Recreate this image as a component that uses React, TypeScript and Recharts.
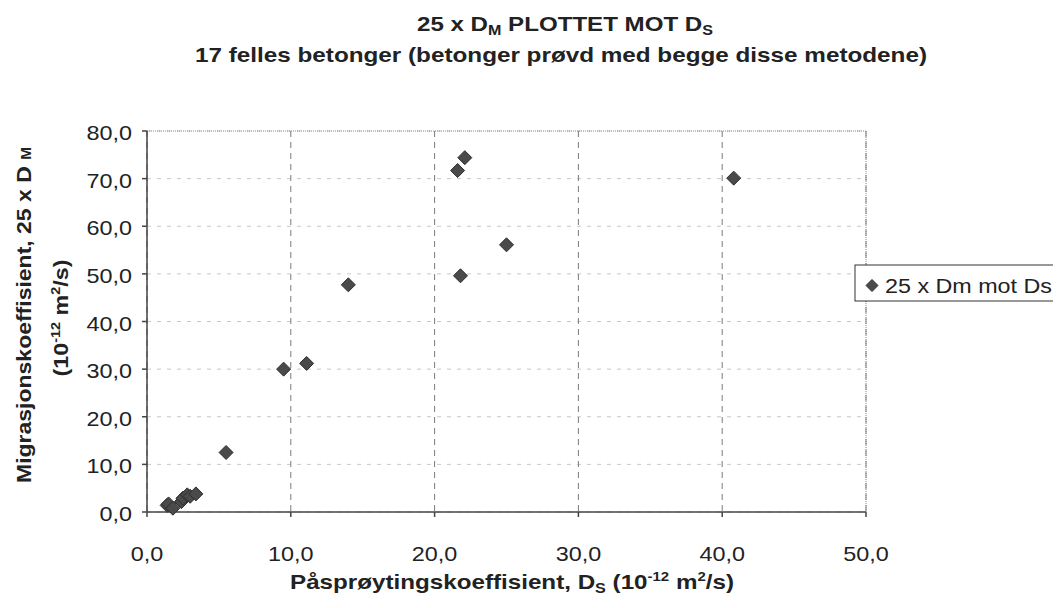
import { ScatterChart, Scatter, XAxis, YAxis, CartesianGrid, ReferenceLine } from 'recharts';

// Påsprøytingskoeffisient D_S and 25 x D_M, 17 concretes
const dsValues = [22.1, 21.6, 40.8, 25.0, 21.8, 14.0, 11.1, 9.5, 5.5, 1.4, 1.5, 1.8, 2.4, 2.5, 2.8, 3.0, 3.4];
const dmValues = [74.4, 71.7, 70.1, 56.1, 49.6, 47.7, 31.2, 30.0, 12.5, 1.4, 1.7, 0.8, 2.2, 2.9, 3.6, 3.3, 3.8];
const xTicks = [0, 10, 20, 30, 40, 50];
const yTicks = [0, 10, 20, 30, 40, 50, 60, 70, 80];
const seriesName = '25 x Dm mot Ds';

const data = dsValues.map((x, i) => ({ x, y: dmValues[i] }));

const FONT = '"Liberation Sans", Arial, sans-serif';
const fmt = (v: number) => v.toFixed(1).replace('.', ',');

const Diamond = (props: any) => {
  const { cx, cy } = props;
  const r = 7;
  return (
    <polygon
      points={`${cx},${cy - r} ${cx + r},${cy} ${cx},${cy + r} ${cx - r},${cy}`}
      fill="#4a4a4a"
      stroke="#2e2e2e"
      strokeWidth={1}
    />
  );
};

const Tick = (props: any) => {
  const { x, y, payload, textAnchor, axis } = props;
  const dy = axis === 'y' ? 9 : 14;
  return (
    <text
      transform={`translate(${x},${y}) scale(1.17,1)`}
      textAnchor={textAnchor}
      dy={dy}
      fontSize={20}
      fontFamily={FONT}
      fill="#222"
    >
      {fmt(payload.value)}
    </text>
  );
};

const App = () => {
  return (
    <div style={{ position: 'relative', width: 1045, height: 590, background: '#fff' }}>
      <ScatterChart width={1045} height={590} margin={{ top: 123, right: 187, bottom: 46, left: 69 }}>
        <CartesianGrid vertical={false} stroke="#c8c8c8" strokeDasharray="4 6" />
        <CartesianGrid horizontal={false} stroke="#7a7a7a" strokeDasharray="6 5" />
        <XAxis
          type="number"
          dataKey="x"
          domain={[0, 50]}
          ticks={xTicks}
          height={40}
          stroke="#444"
          strokeWidth={1.5}
          tickSize={5}
          tickMargin={30}
          tick={<Tick axis="x" />}
        />
        <YAxis
          type="number"
          dataKey="y"
          domain={[0, 80]}
          ticks={yTicks}
          width={70}
          stroke="#444"
          strokeWidth={1.5}
          tickSize={5}
          tickMargin={10}
          tick={<Tick axis="y" />}
        />
        <ReferenceLine y={80} stroke="#888" strokeDasharray="1 1" />
        <ReferenceLine x={50} stroke="#888" strokeDasharray="1 1" />
        <Scatter name={seriesName} data={data} shape={<Diamond />} isAnimationActive={false} />
      </ScatterChart>

      <svg
        width={1045}
        height={590}
        style={{ position: 'absolute', left: 0, top: 0, overflow: 'visible', pointerEvents: 'none' }}
        fontFamily={FONT}
      >
        {/* titles */}
        <text x={557} y={23} textAnchor="middle" fontSize={21} fontWeight="bold" fill="#222"
          textLength={296} lengthAdjust="spacingAndGlyphs">
          25 x D<tspan fontSize={14} dy={4}>M</tspan><tspan dy={-4}> PLOTTET MOT D</tspan><tspan fontSize={14} dy={4}>S</tspan>
        </text>
        <text x={553} y={54} textAnchor="middle" fontSize={21} fontWeight="bold" fill="#222"
          textLength={732} lengthAdjust="spacingAndGlyphs">
          17 felles betonger (betonger prøvd med begge disse metodene)
        </text>

        {/* y axis title */}
        <text transform="translate(23,307) rotate(-90)" textAnchor="middle" fontSize={21} fontWeight="bold" fill="#222"
          textLength={336} lengthAdjust="spacingAndGlyphs">
          Migrasjonskoeffisient, 25 x D <tspan fontSize={14}>M</tspan>
        </text>
        <text transform="translate(60,310) rotate(-90)" textAnchor="middle" fontSize={21} fontWeight="bold" fill="#222"
          textLength={117} lengthAdjust="spacingAndGlyphs">
          (10<tspan fontSize={13} dy={-8}>-12</tspan><tspan dy={8}> m</tspan><tspan fontSize={13} dy={-8}>2</tspan><tspan dy={8}>/s)</tspan>
        </text>

        {/* x axis title */}
        <text x={504} y={581} textAnchor="middle" fontSize={21} fontWeight="bold" fill="#222"
          textLength={444} lengthAdjust="spacingAndGlyphs">
          Påsprøytingskoeffisient, D<tspan fontSize={14} dy={4}>S</tspan><tspan dy={-4}> (10</tspan><tspan fontSize={13} dy={-8}>-12</tspan><tspan dy={8}> m</tspan><tspan fontSize={13} dy={-8}>2</tspan><tspan dy={8}>/s)</tspan>
        </text>

        {/* legend */}
        <rect x={847} y={257} width={204} height={36} fill="#fff" stroke="#333" strokeWidth={1} />
        <polygon points="864,271.5 870,277.5 864,283.5 858,277.5" fill="#4a4a4a" stroke="#2e2e2e" />
        <text x={877} y={285} fontSize={20} fill="#222" textLength={167} lengthAdjust="spacingAndGlyphs">
          {seriesName}
        </text>
      </svg>
    </div>
  );
};

export default App;
